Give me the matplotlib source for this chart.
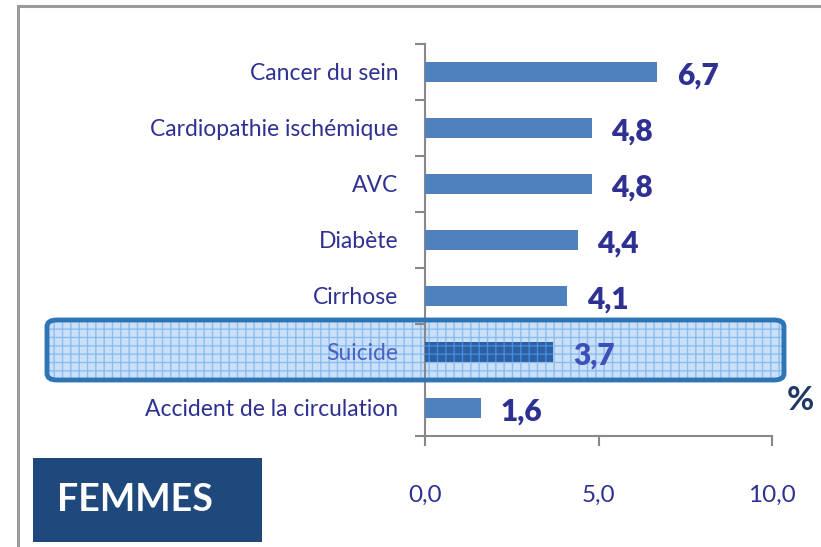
import matplotlib.pyplot as plt
import matplotlib.ticker as ticker
from matplotlib.patches import FancyBboxPatch, Rectangle
import numpy as np

plt.rcParams['font.family'] = ['Lato', 'DejaVu Sans']

# data
causes = ['Cancer du sein', 'Cardiopathie ischémique', 'AVC', 'Diabète',
          'Cirrhose', 'Suicide', 'Accident de la circulation']
values = [6.7, 4.8, 4.8, 4.4, 4.1, 3.7, 1.6]
value_labels = ['6,7', '4,8', '4,8', '4,4', '4,1', '3,7', '1,6']
xticks = [0, 5, 10]
xtick_labels = ['0,0', '5,0', '10,0']
highlight = 'Suicide'

W, H = 821, 547
fig = plt.figure(figsize=(W / 100, H / 100), dpi=100)

text_col = '#2E3192'
bar_col = '#4F81BD'
gray = '#888888'

# axes placed in pixel coords
x0, x1, y_top, y_bot = 425, 772, 44, 436
ax = fig.add_axes([x0 / W, 1 - y_bot / H, (x1 - x0) / W, (y_bot - y_top) / H])
ax.set_facecolor('none')

pos = np.arange(len(causes))[::-1]
for i, (c, v) in enumerate(zip(causes, values)):
    if c == highlight:
        ax.barh(pos[i], v, height=0.34, color='#2B5FA6', hatch='++',
                edgecolor='#4A8AD6', linewidth=0, zorder=3)
        lc = '#3D4FB8'
    else:
        ax.barh(pos[i], v, height=0.34, color=bar_col, zorder=3)
        lc = text_col
    ax.text(v + 0.57, pos[i] - 0.06, value_labels[i], ha='left', va='center',
            fontsize=21.5, fontweight='heavy', color=lc, zorder=4)

ax.set_xlim(0, 10)
ax.set_ylim(-0.5, len(causes) - 0.5)

ax.set_xticks(xticks)
ax.set_xticklabels(xtick_labels, fontsize=17.5, color=text_col)
ax.tick_params(axis='x', direction='out', length=7, width=1.5, color=gray, pad=28)

# category boundaries as ticks, labels on minor ticks
ax.yaxis.set_major_locator(ticker.FixedLocator(np.arange(-0.5, len(causes), 1.0)))
ax.yaxis.set_major_formatter(ticker.NullFormatter())
ax.set_yticks(pos, minor=True)
ax.set_yticklabels(causes, minor=True, fontsize=16.5)
for lab, c in zip(ax.get_yticklabels(minor=True), causes):
    lab.set_color('#4A62C4' if c == highlight else text_col)
ax.tick_params(axis='y', which='major', direction='out', length=7, width=1.5, color=gray)
ax.tick_params(axis='y', which='minor', length=0, pad=19)

for s in ['top', 'right']:
    ax.spines[s].set_visible(False)
for s in ['left', 'bottom']:
    ax.spines[s].set_color(gray)
    ax.spines[s].set_linewidth(1.5)

# outer frame
fig.patches.append(Rectangle((18 / W, -0.05), 1.1, 1 - 6 / H + 0.05,
                             transform=fig.transFigure, fill=False,
                             edgecolor='#9A9A9A', linewidth=2.2, zorder=-2))

# highlight box around "Suicide"
bx0, bx1, by0, by1 = 47, 784, 320, 380
box_kw = dict(boxstyle='round,pad=0,rounding_size=0.012', transform=fig.transFigure)
fig.patches.append(FancyBboxPatch((bx0 / W, 1 - by1 / H), (bx1 - bx0) / W, (by1 - by0) / H,
                                  facecolor='#C9E0F8', edgecolor='#8CBDEE', hatch='++',
                                  linewidth=0, zorder=-1, **box_kw))
fig.patches.append(FancyBboxPatch((bx0 / W, 1 - by1 / H), (bx1 - bx0) / W, (by1 - by0) / H,
                                  facecolor='none', edgecolor='#2E75B6', linewidth=3.5,
                                  zorder=5, **box_kw))

# FEMMES label box
fig.patches.append(Rectangle((33 / W, 1 - 542 / H), (262 - 33) / W, (542 - 458) / H,
                             transform=fig.transFigure, facecolor='#1F497D',
                             edgecolor='none', zorder=1))
fig.text(57 / W, 1 - 500 / H, 'FEMMES', ha='left', va='center', color='white',
         fontsize=27, fontweight='bold')

fig.text(800 / W, 1 - 400 / H, '%', ha='center', va='center', color='#1F3864',
         fontsize=24, fontweight='bold')

fig.savefig('out.png', dpi=100)
